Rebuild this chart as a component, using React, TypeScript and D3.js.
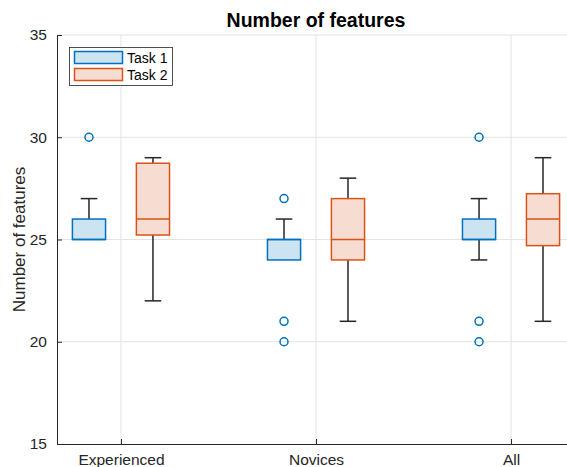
import React, { useRef, useEffect } from "react";
import * as d3 from "d3";

const groups = ["Experienced", "Novices", "All"];
const seriesNames = ["Task 1", "Task 2"];
// [lower whisker, q1, median, q3, upper whisker]
const task1Stats = [
  [25, 25, 25, 26, 27],
  [24, 24, 25, 25, 26],
  [24, 25, 25, 26, 27],
];
const task2Stats = [
  [22, 25.22, 26, 28.73, 29],
  [21, 24, 25, 27, 28],
  [21, 24.7, 26, 27.24, 29],
];
const task1Outliers = [[30], [27, 21, 20], [30, 21, 20]];
const task2Outliers: number[][] = [[], [], []];
const yTicks = [15, 20, 25, 30, 35];

const App = () => {
  const svgRef = useRef<SVGSVGElement | null>(null);

  useEffect(() => {
    const left = 57, right = 567, top = 35, bottom = 444;
    const font = "'Liberation Sans', Arial, sans-serif";
    const axisColor = "#262626";

    const svg = d3.select(svgRef.current);
    svg.selectAll("*").remove();

    const x = d3.scaleLinear().domain([0.672, 3.287]).range([left, right]);
    const y = d3.scaleLinear().domain([15, 35]).range([bottom, top]);

    const colors = [
      { stroke: "#0072BD", fill: "#cce3f2" },
      { stroke: "#D95319", fill: "#f7ddd1" },
    ];
    const offset = 0.164;
    const boxW = 0.17;

    // grid
    const grid = svg.append("g");
    grid.selectAll(".hg")
      .data(yTicks.slice(1))
      .enter()
      .append("line")
      .attr("x1", left).attr("x2", right)
      .attr("y1", (d) => y(d)).attr("y2", (d) => y(d))
      .attr("stroke", "#e3e3e3").attr("stroke-width", 1);
    grid.selectAll(".vg")
      .data(groups)
      .enter()
      .append("line")
      .attr("x1", (d, i) => x(i + 1)).attr("x2", (d, i) => x(i + 1))
      .attr("y1", top).attr("y2", bottom)
      .attr("stroke", "#e3e3e3").attr("stroke-width", 1);

    const drawSeries = (stats: number[][], outliers: number[][], k: number) => {
      const dx = k === 0 ? -offset : offset;
      const c = colors[k];
      const g = svg.append("g");
      stats.forEach((s, i) => {
        const cx = x(i + 1 + dx);
        const hw = x(boxW / 2) - x(0);
        const cap = hw / 2;
        // whiskers
        g.append("line")
          .attr("x1", cx).attr("x2", cx)
          .attr("y1", y(s[3])).attr("y2", y(s[4]))
          .attr("stroke", axisColor).attr("stroke-width", 1.5);
        g.append("line")
          .attr("x1", cx).attr("x2", cx)
          .attr("y1", y(s[1])).attr("y2", y(s[0]))
          .attr("stroke", axisColor).attr("stroke-width", 1.5);
        if (s[4] > s[3]) {
          g.append("line")
            .attr("x1", cx - cap).attr("x2", cx + cap)
            .attr("y1", y(s[4])).attr("y2", y(s[4]))
            .attr("stroke", axisColor).attr("stroke-width", 1.5);
        }
        if (s[0] < s[1]) {
          g.append("line")
            .attr("x1", cx - cap).attr("x2", cx + cap)
            .attr("y1", y(s[0])).attr("y2", y(s[0]))
            .attr("stroke", axisColor).attr("stroke-width", 1.5);
        }
        // box
        g.append("rect")
          .attr("x", cx - hw).attr("width", hw * 2)
          .attr("y", y(s[3])).attr("height", y(s[1]) - y(s[3]))
          .attr("fill", c.fill).attr("stroke", c.stroke).attr("stroke-width", 1.5);
        g.append("line")
          .attr("x1", cx - hw).attr("x2", cx + hw)
          .attr("y1", y(s[2])).attr("y2", y(s[2]))
          .attr("stroke", c.stroke).attr("stroke-width", 1.5);
        // outliers
        g.selectAll(".o" + i)
          .data(outliers[i])
          .enter()
          .append("circle")
          .attr("cx", cx).attr("cy", (d) => y(d)).attr("r", 4)
          .attr("fill", "none").attr("stroke", c.stroke).attr("stroke-width", 1.5);
      });
    };
    drawSeries(task1Stats, task1Outliers, 0);
    drawSeries(task2Stats, task2Outliers, 1);

    // axes
    const yAxis = d3.axisLeft(y).tickValues(yTicks).tickSizeInner(-5).tickSizeOuter(0).tickPadding(10);
    const yg = svg.append("g").attr("transform", `translate(${left},0)`).call(yAxis);
    yg.select(".domain").attr("stroke", axisColor);
    yg.selectAll(".tick line").attr("stroke", axisColor);
    yg.selectAll("text").attr("fill", axisColor).style("font-size", "15.5px").style("font-family", font);

    const xAxis = d3.axisBottom(x).tickValues([1, 2, 3])
      .tickFormat((d) => groups[(d as number) - 1])
      .tickSizeInner(-5).tickSizeOuter(0).tickPadding(10);
    const xg = svg.append("g").attr("transform", `translate(0,${bottom})`).call(xAxis);
    xg.select(".domain").attr("stroke", axisColor);
    xg.selectAll(".tick line").attr("stroke", axisColor);
    xg.selectAll("text").attr("fill", axisColor).style("font-size", "15.5px").style("font-family", font);

    // title & label
    svg.append("text")
      .attr("x", 316).attr("y", 27)
      .attr("text-anchor", "middle")
      .style("font-family", font).style("font-size", "19.5px").style("font-weight", "bold")
      .attr("fill", "#000")
      .text("Number of features");
    svg.append("text")
      .attr("transform", `translate(25,${(top + bottom) / 2}) rotate(-90)`)
      .attr("text-anchor", "middle")
      .style("font-family", font).style("font-size", "17px")
      .attr("fill", axisColor)
      .text("Number of features");

    // legend
    const lg = svg.append("g");
    lg.append("rect")
      .attr("x", 69.5).attr("y", 47.5).attr("width", 103).attr("height", 38)
      .attr("fill", "#fff").attr("stroke", "#262626").attr("stroke-width", 0.8);
    seriesNames.forEach((name, i) => {
      lg.append("rect")
        .attr("x", 74.5).attr("y", 51.5 + i * 17).attr("width", 48).attr("height", 12)
        .attr("fill", colors[i].fill).attr("stroke", colors[i].stroke).attr("stroke-width", 1.5);
      lg.append("text")
        .attr("x", 127).attr("y", 62.5 + i * 17)
        .style("font-family", font).style("font-size", "14px")
        .attr("fill", "#000")
        .text(name);
    });
  }, []);

  return (
    <svg
      ref={svgRef}
      width={567}
      height={467}
      style={{ position: "absolute", left: 0, top: 0, background: "#fff" }}
    />
  );
};

export default App;
